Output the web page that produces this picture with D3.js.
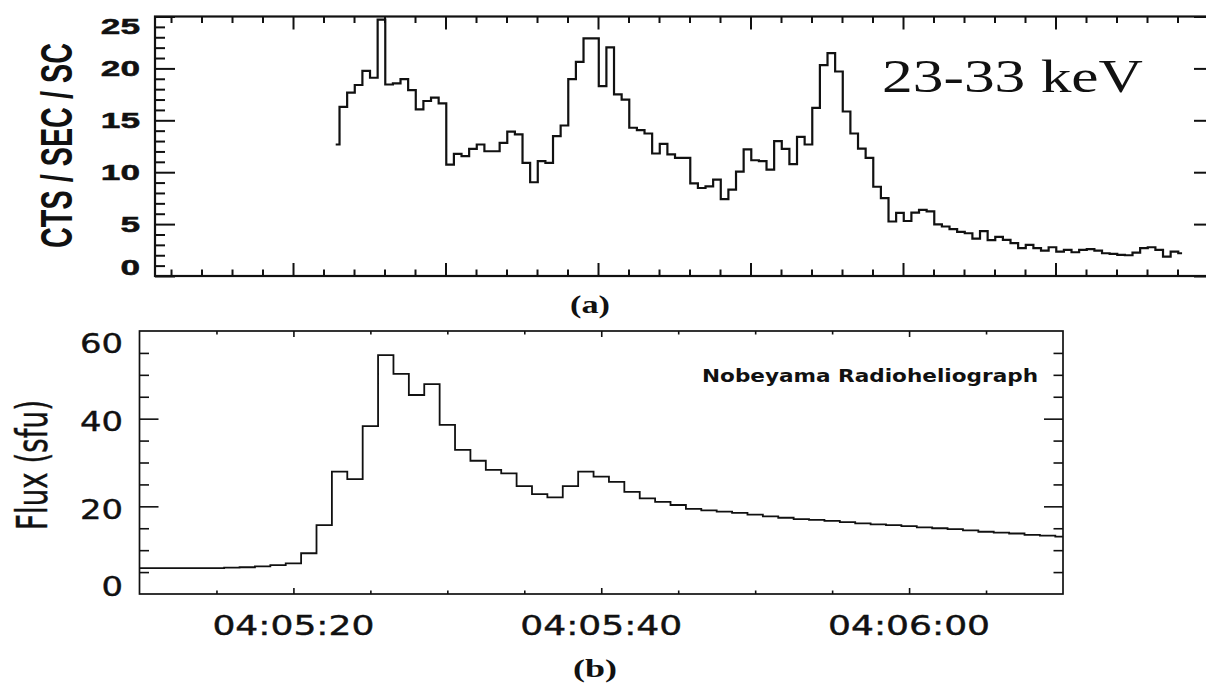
<!DOCTYPE html>
<html><head><meta charset="utf-8">
<script src="https://cdn.jsdelivr.net/npm/d3@7"></script>
<style>body{margin:0;background:#fff}</style>
</head><body>
<svg id="c" width="1206" height="683"></svg>
<script>
// ---- DATA ----
// (a) hard X-ray count rate, 23-33 keV, one sample every 0.5 s (time in s after 04:05:00)
const hxrStart = 22.8;
const hxrStep = 0.5;
const hxrCounts = [12.67,16.3,17.67,18.4,19.76,19.1,24.7,18.45,18.55,18.96,
  17.9,16.05,16.86,17.18,16.63,10.73,11.77,11.54,12.25,12.67,
  12.02,12.02,12.83,13.9,13.64,10.9,9.03,11.06,10.9,13.47,
  14.5,18.96,20.63,22.9,22.9,18.3,22.02,17.5,17.0,14.28,
  14.05,13.73,11.8,12.72,11.72,11.38,11.38,8.93,8.48,8.64,
  9.28,7.41,8.32,10.05,12.19,11.15,11.06,10.25,12.99,12.25,
  10.78,13.4,12.67,16.2,20.32,21.47,19.7,15.85,13.73,12.27,
  11.38,8.6,7.5,5.25,6.08,5.3,6.1,6.38,6.22,4.98,
  4.77,4.51,4.25,4.12,3.6,4.33,3.45,3.77,3.48,3.16,
  2.68,3.0,2.68,2.45,2.77,2.35,2.51,2.29,2.51,2.58,
  2.45,2.19,2.13,2.03,2.0,2.26,2.68,2.77,2.51,1.87,
  2.35,2.19];
const hxrYTicks = [0,5,10,15,20,25];
const hxrLabel = "23-33 keV";
const hxrYTitle = "CTS / SEC / SC";

// (b) Nobeyama Radioheliograph flux, one sample per second (time in s after 04:05:00)
const nobStart = 10;
const nobStep = 1;
const nobFlux = [5.9,5.9,5.9,5.9,5.9,5.9,6.0,6.1,6.3,6.6,7.0,
  9.3,15.7,27.9,26.2,38.3,54.5,50.2,45.4,47.9,38.6,
  32.9,30.4,28.3,27.5,24.6,22.8,22.05,24.6,27.9,26.8,
  25.6,23.3,21.8,21.0,20.3,19.4,19.1,18.8,18.5,18.1,
  17.7,17.4,17.1,16.9,16.7,16.4,16.1,15.9,15.7,15.5,
  15.2,15.0,14.8,14.5,14.2,14.0,13.8,13.5,13.3,13.1];
const nobYTicks = [0,20,40,60];
const nobXTicks = [20,40,60];
const nobXLabels = ["04:05:20","04:05:40","04:06:00"];
const nobLabel = "Nobeyama Radioheliograph";
const nobYTitle = "Flux (sfu)";

// ---- DRAW ----
const svg = d3.select('#c');
const clamp = (v,a,b)=>Math.max(a,Math.min(b,v));

function ticksAxis(g, axisFn, scale, vals, size, tr, sw){
  const a = g.append('g').attr('transform', tr)
    .call(axisFn(scale).tickValues(vals).tickSize(size).tickFormat(''));
  a.select('.domain').remove();
  a.selectAll('line').attr('stroke','#111').attr('stroke-width', sw);
  a.selectAll('text').remove();
}

// ===== Panel (a) =====
const T = {l:155, r:1208, t:16.5, b:276};
const xT = d3.scaleLinear().domain([10.95, 80]).range([T.l, T.r]);
const yT = d3.scaleLinear().domain([0,25]).range([T.b, T.t]);
const gT = svg.append('g');

const majT = d3.range(20, 80, 10);
const minT = d3.range(12, 80, 2).filter(v => v % 10 !== 0);
ticksAxis(gT, d3.axisTop, xT, majT, 13, `translate(0,${T.b})`, 2);
ticksAxis(gT, d3.axisTop, xT, minT, 6.5, `translate(0,${T.b})`, 2);
ticksAxis(gT, d3.axisBottom, xT, majT, 13, `translate(0,${T.t})`, 2);
ticksAxis(gT, d3.axisBottom, xT, minT, 6.5, `translate(0,${T.t})`, 2);
const minYT = d3.range(1, 25, 1).filter(v => v % 5 !== 0);
ticksAxis(gT, d3.axisRight, yT, hxrYTicks, 20, `translate(${T.l},0)`, 2);
ticksAxis(gT, d3.axisRight, yT, minYT, 10, `translate(${T.l},0)`, 2);
ticksAxis(gT, d3.axisLeft, yT, hxrYTicks, 14, `translate(${T.r},0)`, 2);

gT.append('rect').attr('x',T.l).attr('y',T.t).attr('width',T.r-T.l).attr('height',T.b-T.t)
  .attr('fill','none').attr('stroke','#111').attr('stroke-width',2.2);

const lineT = d3.line().x((d,i)=>xT(hxrStart + i*hxrStep)).y(d=>yT(d)).curve(d3.curveStep);
gT.append('path').datum(hxrCounts).attr('d', lineT)
  .attr('fill','none').attr('stroke','#111').attr('stroke-width',2.2).attr('stroke-linejoin','miter');

gT.selectAll('text.yl').data(hxrYTicks).join('text').attr('class','yl')
  .attr('transform', d => `translate(140,${clamp(yT(d), T.t+9, T.b-9) + 8}) scale(1.6,1)`)
  .attr('text-anchor','end').attr('font-family','"Liberation Sans", Arial, sans-serif')
  .attr('font-weight','bold').attr('font-size',22).attr('fill','#111')
  .attr('stroke','#111').attr('stroke-width',0.5).text(d=>d);

gT.append('text').attr('transform',`translate(72,145.5) scale(1.55,1) rotate(-90)`)
  .attr('text-anchor','middle').attr('font-family','"Liberation Sans", Arial, sans-serif')
  .attr('font-weight','bold').attr('font-size',28.8).attr('fill','#111')
  .attr('textLength',205).attr('lengthAdjust','spacingAndGlyphs').text(hxrYTitle);

gT.append('text').attr('x',882).attr('y',91.7)
  .attr('font-family','"Liberation Serif", "Times New Roman", serif').attr('font-size',47).attr('fill','#111')
  .attr('textLength',261).attr('lengthAdjust','spacingAndGlyphs').text(hxrLabel);

svg.append('text').attr('x',590).attr('y',312.5).attr('text-anchor','middle')
  .attr('font-family','"Liberation Serif", "Times New Roman", serif').attr('font-weight','bold')
  .attr('font-size',25).attr('fill','#111')
  .attr('textLength',40).attr('lengthAdjust','spacingAndGlyphs').text('(a)');

// ===== Panel (b) =====
const B = {l:139.5, r:1063, t:331, b:594};
const xB = d3.scaleLinear().domain([10,70]).range([B.l, B.r]);
const yB = d3.scaleLinear().domain([0,60]).range([B.b, B.t]);
const gB = svg.append('g');

const minXB = d3.range(15, 70, 5).filter(v => !nobXTicks.includes(v));
ticksAxis(gB, d3.axisTop, xB, nobXTicks, 6, `translate(0,${B.b})`, 1.6);
ticksAxis(gB, d3.axisTop, xB, minXB, 3.5, `translate(0,${B.b})`, 1.6);
ticksAxis(gB, d3.axisBottom, xB, nobXTicks, 6, `translate(0,${B.t})`, 1.6);
ticksAxis(gB, d3.axisBottom, xB, minXB, 3.5, `translate(0,${B.t})`, 1.6);
const majYB = [20,40];
const minYB = d3.range(5, 60, 5).filter(v => v % 20 !== 0);
ticksAxis(gB, d3.axisRight, yB, majYB, 19, `translate(${B.l},0)`, 1.6);
ticksAxis(gB, d3.axisRight, yB, minYB, 9.5, `translate(${B.l},0)`, 1.6);
ticksAxis(gB, d3.axisLeft, yB, majYB, 19, `translate(${B.r},0)`, 1.6);
ticksAxis(gB, d3.axisLeft, yB, minYB, 9.5, `translate(${B.r},0)`, 1.6);

gB.append('rect').attr('x',B.l).attr('y',B.t).attr('width',B.r-B.l).attr('height',B.b-B.t)
  .attr('fill','none').attr('stroke','#111').attr('stroke-width',1.7);

const lineB = d3.line().x((d,i)=>xB(nobStart + i*nobStep)).y(d=>yB(d)).curve(d3.curveStep);
gB.append('path').datum(nobFlux).attr('d', lineB)
  .attr('fill','none').attr('stroke','#111').attr('stroke-width',1.8);

gB.selectAll('text.yl').data(nobYTicks).join('text').attr('class','yl')
  .attr('x',123).attr('y', d => clamp(yB(d)+3, B.t+12, B.b-8) + 9.5)
  .attr('text-anchor','end').attr('font-family','"DejaVu Sans", sans-serif')
  .attr('font-size',26).attr('fill','#111').attr('stroke','#111').attr('stroke-width',0.4)
  .attr('textLength', d => String(d).length*21.5).attr('lengthAdjust','spacingAndGlyphs')
  .text(d=>d);

gB.selectAll('text.xl').data(nobXTicks).join('text').attr('class','xl')
  .attr('x', d => xB(d)).attr('y', 635).attr('text-anchor','middle')
  .attr('font-family','"DejaVu Sans", sans-serif').attr('font-size',26).attr('fill','#111')
  .attr('stroke','#111').attr('stroke-width',0.4)
  .attr('textLength',162).attr('lengthAdjust','spacingAndGlyphs')
  .text((d,i)=>nobXLabels[i]);

gB.append('text').attr('transform',`translate(47,465) scale(1.55,1) rotate(-90)`)
  .attr('text-anchor','middle').attr('font-family','"DejaVu Sans", sans-serif')
  .attr('font-size',27.8).attr('fill','#111').attr('stroke','#111').attr('stroke-width',0.3)
  .attr('textLength',130).attr('lengthAdjust','spacingAndGlyphs').text(nobYTitle);

gB.append('text').attr('x',702).attr('y',382)
  .attr('font-family','"DejaVu Sans", sans-serif').attr('font-weight','bold')
  .attr('font-size',17.5).attr('fill','#111')
  .attr('textLength',336).attr('lengthAdjust','spacingAndGlyphs').text(nobLabel);

svg.append('text').attr('x',595).attr('y',677).attr('text-anchor','middle')
  .attr('font-family','"Liberation Serif", "Times New Roman", serif').attr('font-weight','bold')
  .attr('font-size',26).attr('fill','#111')
  .attr('textLength',44).attr('lengthAdjust','spacingAndGlyphs').text('(b)');
</script>
</body></html>
